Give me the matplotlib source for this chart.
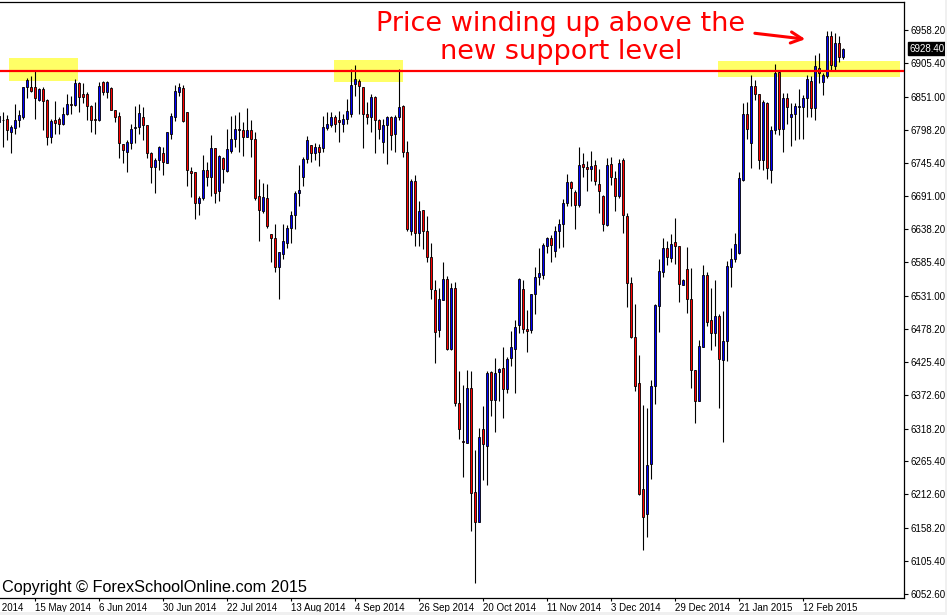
import matplotlib
matplotlib.use('Agg')
import matplotlib.pyplot as plt
from matplotlib.patches import Rectangle

# FTSE 100 daily candles, late Apr 2014 - 26 Feb 2015
first_bar = -1
opens = [6811, 6814, 6815, 6795, 6801, 6813, 6819, 6866, 6866, 6866,
         6846, 6864, 6846, 6787, 6814, 6815, 6807, 6824, 6839, 6838,
         6873, 6855, 6855, 6837, 6815, 6813, 6875, 6858, 6865, 6830,
         6820, 6775, 6763, 6776, 6801, 6802, 6818, 6806, 6760, 6739,
         6749, 6760, 6745, 6792, 6819, 6859, 6865, 6827, 6732, 6730,
         6680, 6689, 6734, 6723, 6768, 6699, 6752, 6732, 6764, 6784,
         6799, 6798, 6787, 6798, 6784, 6691, 6668, 6689, 6631, 6624,
         6577, 6598, 6617, 6640, 6661, 6696, 6722, 6751, 6774, 6760,
         6771, 6768, 6801, 6806, 6818, 6814, 6807, 6815, 6824, 6871,
         6876, 6866, 6824, 6818, 6851, 6814, 6779, 6806, 6818, 6792,
         6818, 6837, 6763, 6636, 6716, 6632, 6669, 6636, 6593, 6541,
         6476, 6525, 6558, 6446, 6544, 6360, 6299, 6295, 6383, 6216,
         6169, 6317, 6291, 6409, 6364, 6409, 6415, 6381, 6431, 6446,
         6485, 6542, 6478, 6476, 6534, 6561, 6565, 6612, 6625, 6604,
         6635, 6646, 6680, 6714, 6698, 6678, 6743, 6738, 6735, 6742,
         6711, 6692, 6645, 6743, 6720, 6692, 6750, 6659, 6552, 6465,
         6391, 6222, 6181, 6261, 6387, 6515, 6569, 6608, 6592, 6618,
         6612, 6549, 6574, 6526, 6413, 6362, 6450, 6565, 6493, 6471,
         6499, 6428, 6459, 6577, 6590, 6600, 6717, 6824, 6777, 6868,
         6856, 6750, 6841, 6734, 6798, 6890, 6800, 6849, 6819, 6823,
         6835, 6835, 6849, 6876, 6833, 6898, 6875, 6884, 6948, 6900,
         6938, 6915]
highs = [6827, 6827, 6822, 6806, 6839, 6830, 6867, 6881, 6884, 6893,
         6865, 6866, 6847, 6816, 6845, 6819, 6835, 6855, 6852, 6879,
         6875, 6873, 6858, 6838, 6843, 6875, 6876, 6876, 6866, 6830,
         6827, 6775, 6782, 6808, 6836, 6839, 6835, 6806, 6763, 6752,
         6772, 6770, 6795, 6825, 6870, 6873, 6870, 6827, 6739, 6730,
         6692, 6758, 6747, 6790, 6768, 6758, 6755, 6799, 6820, 6822,
         6827, 6811, 6833, 6814, 6795, 6719, 6713, 6711, 6631, 6647,
         6602, 6647, 6645, 6667, 6699, 6742, 6755, 6788, 6774, 6777,
         6775, 6820, 6826, 6827, 6822, 6828, 6823, 6848, 6896, 6902,
         6880, 6867, 6843, 6855, 6853, 6816, 6815, 6820, 6820, 6822,
         6896, 6838, 6780, 6719, 6725, 6684, 6669, 6660, 6616, 6557,
         6544, 6585, 6563, 6552, 6553, 6411, 6388, 6412, 6411, 6284,
         6319, 6355, 6410, 6410, 6431, 6415, 6449, 6433, 6475, 6493,
         6560, 6557, 6509, 6534, 6578, 6608, 6616, 6626, 6629, 6643,
         6654, 6687, 6727, 6716, 6701, 6771, 6761, 6748, 6764, 6750,
         6735, 6693, 6752, 6754, 6732, 6751, 6752, 6664, 6562, 6519,
         6436, 6356, 6351, 6397, 6518, 6590, 6625, 6620, 6631, 6656,
         6612, 6558, 6609, 6576, 6413, 6461, 6581, 6570, 6544, 6557,
         6502, 6507, 6587, 6608, 6632, 6731, 6841, 6843, 6886, 6878,
         6856, 6846, 6843, 6804, 6903, 6894, 6857, 6857, 6841, 6841,
         6863, 6854, 6886, 6884, 6918, 6921, 6889, 6956, 6956, 6953,
         6948, 6929]
lows = [6800, 6771, 6782, 6761, 6792, 6802, 6816, 6849, 6859, 6816,
        6845, 6798, 6774, 6776, 6792, 6792, 6806, 6822, 6824, 6836,
        6826, 6841, 6813, 6795, 6791, 6812, 6854, 6849, 6829, 6810,
        6753, 6744, 6731, 6767, 6776, 6792, 6781, 6753, 6712, 6697,
        6734, 6726, 6744, 6784, 6812, 6852, 6811, 6708, 6690, 6654,
        6661, 6686, 6707, 6692, 6681, 6683, 6712, 6731, 6761, 6771,
        6763, 6756, 6787, 6754, 6685, 6620, 6664, 6640, 6585, 6569,
        6526, 6590, 6608, 6616, 6638, 6675, 6707, 6745, 6747, 6749,
        6740, 6763, 6797, 6803, 6794, 6778, 6794, 6807, 6818, 6853,
        6824, 6769, 6808, 6795, 6760, 6784, 6760, 6743, 6766, 6763,
        6813, 6755, 6636, 6629, 6612, 6612, 6606, 6586, 6527, 6423,
        6466, 6525, 6445, 6445, 6354, 6301, 6241, 6295, 6153, 6071,
        6169, 6236, 6228, 6339, 6313, 6363, 6335, 6376, 6418, 6376,
        6472, 6472, 6442, 6471, 6502, 6549, 6558, 6600, 6586, 6594,
        6608, 6609, 6675, 6675, 6638, 6674, 6723, 6700, 6715, 6709,
        6664, 6635, 6644, 6709, 6667, 6688, 6633, 6514, 6463, 6378,
        6211, 6123, 6144, 6237, 6357, 6474, 6562, 6581, 6586, 6583,
        6521, 6549, 6504, 6384, 6327, 6362, 6450, 6483, 6445, 6451,
        6351, 6296, 6426, 6545, 6585, 6598, 6715, 6784, 6736, 6846,
        6735, 6734, 6719, 6713, 6791, 6790, 6763, 6808, 6772, 6781,
        6783, 6783, 6819, 6818, 6813, 6873, 6854, 6881, 6894, 6894,
        6907, 6911]
closes = [6820, 6813, 6797, 6803, 6814, 6822, 6866, 6878, 6861, 6849,
          6864, 6845, 6787, 6812, 6809, 6807, 6824, 6839, 6838.5, 6873,
          6850, 6851, 6836, 6813, 6813, 6868, 6858, 6875, 6830, 6819,
          6776, 6765, 6779, 6800, 6803, 6825, 6805, 6760, 6739, 6750,
          6770, 6747, 6795, 6820, 6860, 6867, 6812, 6734, 6728, 6680,
          6689, 6734, 6723, 6768, 6697, 6756, 6735, 6767, 6784, 6799,
          6798, 6787, 6798, 6784, 6688, 6669, 6690, 6643, 6625, 6577,
          6601, 6620, 6640, 6661, 6696, 6701, 6751, 6781, 6760, 6770,
          6763, 6802, 6807, 6818, 6808, 6810, 6816, 6828, 6870, 6880,
          6869, 6823, 6819, 6851, 6813, 6799, 6806, 6818, 6789, 6819,
          6835, 6762, 6638, 6716, 6632, 6668, 6636, 6593, 6542, 6474,
          6527, 6558, 6446, 6544, 6360, 6317, 6296, 6383, 6215, 6169,
          6304, 6293, 6407, 6364, 6407, 6414, 6381, 6430, 6449, 6482,
          6558, 6478, 6475, 6534, 6562, 6568, 6613, 6624, 6613, 6636,
          6646, 6680, 6714, 6704, 6678, 6742, 6738, 6735, 6740, 6715,
          6700, 6646, 6742, 6722, 6692, 6744, 6661, 6552, 6465, 6387,
          6213, 6176, 6259, 6387, 6517, 6571, 6608, 6593, 6614, 6612,
          6550, 6557, 6527, 6413, 6363, 6451, 6565, 6490, 6471, 6499,
          6430, 6459, 6579, 6590, 6615, 6720, 6824, 6799, 6868, 6856,
          6750, 6843, 6737, 6798, 6889, 6800, 6849, 6834, 6823, 6836,
          6836, 6849, 6879, 6833, 6900, 6889, 6886, 6949, 6902, 6938,
          6915, 6928.4]

date_labels = ['23 Apr 2014', '15 May 2014', '6 Jun 2014', '30 Jun 2014',
               '22 Jul 2014', '13 Aug 2014', '4 Sep 2014', '26 Sep 2014',
               '20 Oct 2014', '11 Nov 2014', '3 Dec 2014', '29 Dec 2014',
               '21 Jan 2015', '12 Feb 2015']
date_bars = [-8, 8, 24, 40, 56, 72, 88, 104, 120, 136, 152, 168, 184, 200]

price_ticks = [6958.20, 6905.40, 6851.00, 6798.20, 6745.40, 6691.00,
               6638.20, 6585.40, 6531.00, 6478.20, 6425.40, 6372.60,
               6318.20, 6265.40, 6212.60, 6158.20, 6105.40, 6052.60]
last_price = 6928.40
support_level = 6892.5

# highlighted zones: (first bar, last bar, low, high)
zones = [(1.4, 18.6, 6876, 6914),
         (82.7, 99.9, 6874, 6910),
         (178.7, 224.2, 6882, 6908)]

W, H = 947, 615
fig = plt.figure(figsize=(W / 100, H / 100), dpi=100)
fig.patch.set_facecolor('white')
plt.rcParams['font.family'] = ['Liberation Sans', 'DejaVu Sans']

ax = fig.add_axes([0, 17 / H, 904 / W, 596 / H])
ax.set_xlim(-0.825, 225.175)
ax.set_ylim(6046.2, 7003.2)

bull = '#0000ff'
bear = '#ff0000'

# zones and the support line
for x0, x1, lo, hi in zones:
    ax.add_patch(Rectangle((x0, lo), x1 - x0, hi - lo, facecolor='#ffff66',
                           edgecolor='none', zorder=1))
ax.axhline(support_level, color='#ff0000', lw=1.6, zorder=4)

# candles
xs = list(range(first_bar, first_bar + len(opens)))
ax.vlines(xs, lows, highs, color='black', lw=0.8, zorder=2)
bottoms = [min(o, c) for o, c in zip(opens, closes)]
heights = [abs(c - o) for o, c in zip(opens, closes)]
colors = [bull if c >= o else bear for o, c in zip(opens, closes)]
ax.bar(xs, heights, bottom=bottoms, width=0.55, color=colors,
       edgecolor='black', linewidth=0.6, zorder=3)

# frame
ax.spines['left'].set_visible(False)
for s in ['top', 'right', 'bottom']:
    ax.spines[s].set_linewidth(0.9)
    ax.spines[s].set_color('black')

# price axis on the right
ax.yaxis.tick_right()
ax.set_yticks(price_ticks)
ax.set_yticklabels(['%.2f' % p for p in price_ticks])
ax.tick_params(axis='y', direction='out', length=3, width=0.8, pad=2,
               labelsize=7, colors='black')

# time axis (labels start at their bar, like MT4)
ax.set_xticks(date_bars[1:])
ax.set_xticklabels(date_labels[1:], ha='left')
ax.tick_params(axis='x', direction='out', length=2, width=0.8, pad=1.5,
               labelsize=7)
# first label sits left of the window and is cut off, as in the screenshot
ax.annotate(date_labels[0], xy=(date_bars[0], 0),
            xycoords=ax.get_xaxis_transform(), xytext=(0, -3.5),
            textcoords='offset points', ha='left', va='top', fontsize=7,
            annotation_clip=False)

# current price marker
ax.annotate('%.2f' % last_price, xy=(1.0, last_price),
            xycoords=('axes fraction', 'data'), xytext=(4, 0),
            textcoords='offset points', ha='left', va='center', fontsize=7,
            color='white',
            bbox=dict(boxstyle='square,pad=0.15', fc='black', ec='black'))

# annotation
ax.text(139.4, 6946, 'Price winding up above the\nnew support level',
        ha='center', va='center', fontsize=19.5, color='#ff0000',
        family='DejaVu Sans', linespacing=1.1, zorder=6)
ax.annotate('', xy=(201.2, 6943), xytext=(187.2, 6953.5),
            arrowprops=dict(arrowstyle='->,head_length=0.8,head_width=0.4',
                            color='#ff0000', lw=2.2), zorder=6)

ax.text(0.002, 0.005, 'Copyright \u00a9 ForexSchoolOnline.com 2015',
        transform=ax.transAxes, ha='left', va='bottom', fontsize=11.7,
        color='black', zorder=6)

# window chrome strips
fig.add_artist(Rectangle((0, 0), 1, 3 / H, transform=fig.transFigure,
                         facecolor='#f0f0f0', edgecolor='none'))
fig.add_artist(Rectangle((945 / W, 0), 2 / W, 1, transform=fig.transFigure,
                         facecolor='#f0f0f0', edgecolor='none'))

fig.savefig('out.png', dpi=100)
